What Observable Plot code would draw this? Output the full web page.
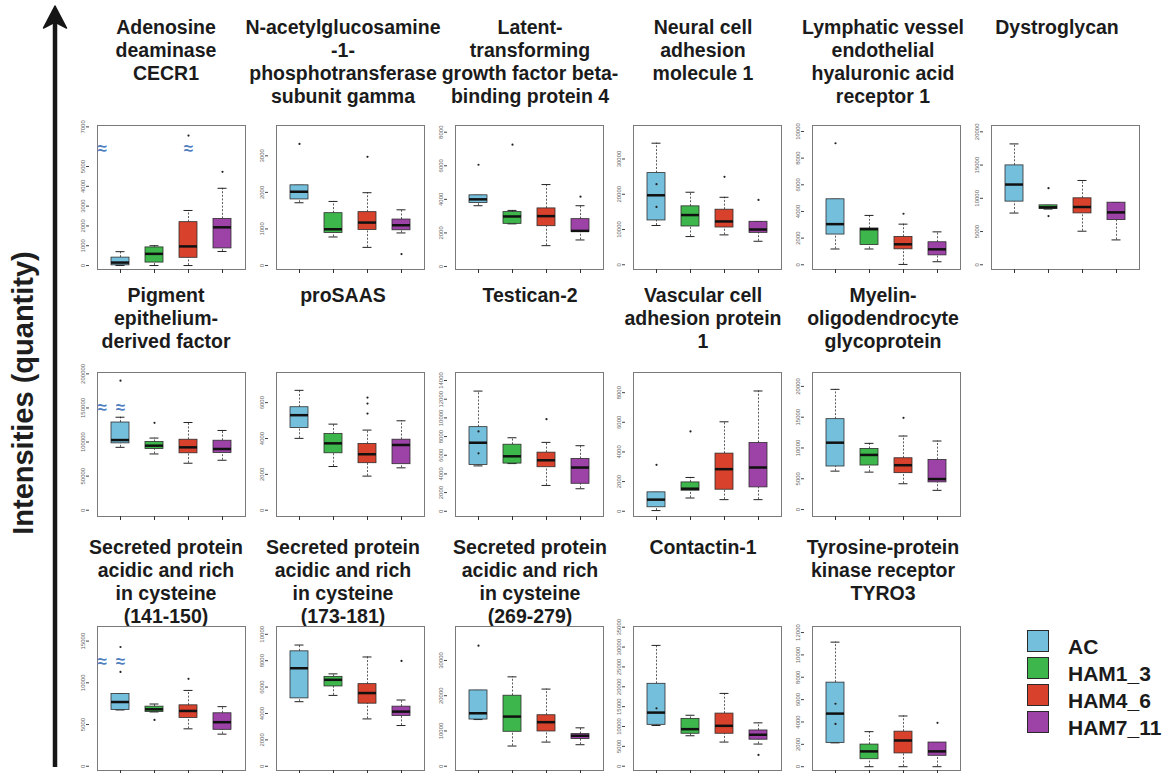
<!DOCTYPE html>
<html>
<head>
<meta charset="utf-8">
<script src="https://cdn.jsdelivr.net/npm/d3@7"></script>
<script src="https://cdn.jsdelivr.net/npm/@observablehq/plot@0.6"></script>
<style>
  body { margin: 0; background: #fff; font-family: "Liberation Sans", Arial, sans-serif; }
  #root { position: relative; width: 1172px; height: 773px; overflow: hidden; background: #fff; }
  .title { position: absolute; width: 230px; text-align: center; font-weight: bold; font-size: 19.5px; line-height: 23px; color: #1b1b1b; white-space: nowrap; }
  .panel { position: absolute; }
  .ylab { position: absolute; font-weight: bold; font-size: 29px; color: #1e1e1e; white-space: nowrap; transform-origin: center center; }
  .lgbox { position: absolute; width: 20px; height: 20px; border: 1.5px solid #2a2a2a; }
  .lgtxt { position: absolute; font-weight: bold; font-size: 21px; line-height: 24px; color: #1b1b1b; }
</style>
</head>
<body>
<div id="root"></div>
<script>
// ---------------- data ----------------
const groups = ["AC", "HAM1_3", "HAM4_6", "HAM7_11"];
const colors = ["#74bfdc", "#3db64b", "#d8412c", "#9d42a6"];

const titles = [
  ["Adenosine", "deaminase", "CECR1"],
  ["N-acetylglucosamine", "-1-", "phosphotransferase", "subunit gamma"],
  ["Latent-", "transforming", "growth factor beta-", "binding protein 4"],
  ["Neural cell", "adhesion", "molecule 1"],
  ["Lymphatic vessel", "endothelial", "hyaluronic acid", "receptor 1"],
  ["Dystroglycan"],
  ["Pigment", "epithelium-", "derived factor"],
  ["proSAAS"],
  ["Testican-2"],
  ["Vascular cell", "adhesion protein", "1"],
  ["Myelin-", "oligodendrocyte", "glycoprotein"],
  ["Secreted protein", "acidic and rich", "in cysteine", "(141-150)"],
  ["Secreted protein", "acidic and rich", "in cysteine", "(173-181)"],
  ["Secreted protein", "acidic and rich", "in cysteine", "(269-279)"],
  ["Contactin-1"],
  ["Tyrosine-protein", "kinase receptor", "TYRO3"]
];

// box statistics per protein, in group order AC, HAM1_3, HAM4_6, HAM7_11
const mins = [
  [0, 0, 0, 710], [1716, 780, 495, 890], [3620, 2540, 1240, 1580], [11140, 8000, 8480, 6670],
  [1184, 1184, 25, 227], [7780, 8380, 5050, 3740], [92230, 82520, 68930, 73300], [4007, 2438, 1902, 2364],
  [4858, 5106, 2766, 2411], [45, 894, 782, 782], [6240, 6080, 4190, 3120], [6746, 6508, 4484, 3849],
  [4893, 5370, 3588, 3087], [13240, 5730, 6850, 6100], [10250, 7670, 6080, 5580], [2131, 0, 0, 0]
];
const q1s = [
  [10, 150, 390, 865], [1807, 890, 972, 963], [3780, 2540, 2400, 2060], [12570, 10860, 10570, 9050],
  [2267, 1486, 1159, 705], [9500, 8380, 7730, 6720], [98060, 89800, 83500, 83980], [4580, 3176, 2622, 2567],
  [4965, 5106, 4716, 2943], [268, 1385, 1452, 1609], [6990, 7150, 5910, 4410], [6746, 6508, 5794, 4365],
  [5144, 6048, 4743, 3814], [13240, 9770, 9860, 7700], [10420, 8170, 8170, 6670], [2131, 670, 1187, 974]
];
const medians = [
  [150, 590, 966, 1930], [2018, 991, 1174, 1101], [4000, 2980, 3000, 2120], [19710, 14100, 12290, 10000],
  [3048, 2670, 1536, 1159], [12070, 8640, 8690, 7880], [102910, 94660, 92230, 89800], [5300, 3730, 3121, 3638],
  [7340, 5887, 5461, 4681], [782, 1520, 2838, 2950], [10860, 8870, 7200, 4950], [7698, 6825, 6627, 5278],
  [7428, 6550, 5546, 4141], [15020, 14080, 12490, 8640], [13500, 9330, 10170, 7920], [4749, 1370, 2344, 1370]
];
const q3s = [
  [400, 915, 2190, 2355], [2193, 1431, 1459, 1257], [4240, 3240, 3460, 2820], [26000, 16570, 15620, 12190],
  [4912, 2720, 2091, 1688], [14950, 8940, 10000, 9340], [128640, 100000, 103400, 101940], [5743, 4247, 3693, 3933],
  [9007, 7128, 6277, 5603], [1274, 1944, 3888, 4603], [14680, 9840, 8330, 8060], [8651, 7143, 7302, 6349],
  [8708, 6775, 6223, 4517], [21500, 20000, 14460, 9110], [20750, 11920, 13250, 9000], [7519, 1979, 3135, 2161]
];
const maxs = [
  [700, 1000, 2780, 3900], [2193, 1752, 1991, 1523], [4240, 3340, 4880, 3620], [34480, 20570, 19140, 12190],
  [4912, 3703, 3048, 2469], [18180, 8940, 12680, 9340], [136410, 105830, 128640, 116990], [6685, 4801, 4469, 4986],
  [12870, 7872, 7376, 7021], [1274, 2279, 6034, 8112], [19520, 10750, 11940, 11130], [8651, 7460, 9087, 7143],
  [9185, 7001, 8281, 5019], [21500, 25350, 21880, 10890], [30420, 12830, 18330, 10920], [11142, 3135, 4536, 2161]
];

// individual points (outliers and visible samples): [protein index, group, value]
const points = [
  [0, "HAM4_6", 6560], [0, "HAM7_11", 4730],
  [1, "AC", 3326], [1, "HAM4_6", 2972], [1, "HAM7_11", 312],
  [2, "AC", 6060], [2, "HAM1_3", 7260], [2, "HAM7_11", 4160],
  [3, "HAM4_6", 24950], [3, "HAM7_11", 18380], [3, "AC", 22860], [3, "AC", 16400],
  [4, "AC", 9118], [4, "HAM4_6", 3829],
  [5, "HAM1_3", 11520], [5, "HAM1_3", 7320],
  [6, "AC", 190000], [6, "HAM1_3", 128160],
  [7, "HAM4_6", 6279], [7, "HAM4_6", 5946], [7, "HAM4_6", 5392],
  [8, "HAM4_6", 9858], [8, "AC", 8546], [8, "AC", 6206],
  [9, "AC", 3128], [9, "HAM1_3", 5385],
  [10, "HAM4_6", 14890],
  [11, "AC", 11310], [11, "AC", 14290], [11, "HAM1_3", 5556], [11, "HAM4_6", 10476],
  [12, "HAM7_11", 7980],
  [13, "AC", 34180],
  [14, "HAM7_11", 2830], [14, "AC", 14580],
  [15, "HAM7_11", 3927], [15, "AC", 5630], [15, "AC", 3830]
];

// axis break markers: [protein index, group (null = on the axis), value]
const breaks = [
  [0, null, 5900], [0, "HAM4_6", 5900],
  [6, null, 151000], [6, "AC", 151000],
  [11, null, 12500], [11, "AC", 12500]
];

const yDomains = [
  [-200, 7070], [-110, 3830], [-180, 8400], [-1340, 39500], [-355, 10450], [-710, 20950],
  [-9200, 202000], [-350, 7680], [-560, 14860], [-355, 9360], [-1130, 22260],
  [-510, 16750], [-320, 10590], [-1210, 39630], [-1080, 35180], [-340, 12540]
];
const yTicks = [
  [0, 1000, 2000, 3000, 4000, 5000, 7000],
  [0, 1000, 2000, 3000],
  [0, 2000, 4000, 6000, 8000],
  [0, 10000, 20000, 30000],
  [0, 2000, 4000, 6000, 8000, 10000],
  [0, 5000, 10000, 15000, 20000],
  [0, 50000, 100000, 150000, 200000],
  [0, 2000, 4000, 6000],
  [0, 2000, 4000, 6000, 8000, 10000, 12000, 14000],
  [0, 2000, 4000, 6000, 8000],
  [0, 5000, 10000, 15000, 20000],
  [0, 5000, 10000, 15000],
  [0, 2000, 4000, 6000, 8000, 10000],
  [0, 10000, 20000, 30000],
  [0, 5000, 10000, 15000, 20000, 25000, 30000, 35000],
  [0, 2000, 4000, 6000, 8000, 10000, 12000]
];
const yLabel = "Intensities (quantity)";

// ---------------- layout ----------------
const colFrameLeft = [97, 276, 455, 633, 812, 991];
const colTitleCenter = [166, 343, 530, 703, 883, 1057];
const rowFrameTop = [125, 372, 626];
const rowTitleTop = [16, 284, 536];
const panelRow = [0, 0, 0, 0, 0, 0, 1, 1, 1, 1, 1, 2, 2, 2, 2, 2];
const panelCol = [0, 1, 2, 3, 4, 5, 0, 1, 2, 3, 4, 0, 1, 2, 3, 4];

const ML = 30, INSET = 8, MT = 5, FH = 144, MB = 12, FW = 148;

const root = document.getElementById("root");

function makePanel(i) {
  const rows = groups.map((g, j) => ({
    group: g, min: mins[i][j], q1: q1s[i][j], med: medians[i][j], q3: q3s[i][j], max: maxs[i][j]
  }));
  const pts = points.filter(p => p[0] === i).map(p => ({group: p[1], value: p[2]}));
  const brAxis = breaks.filter(b => b[0] === i && b[1] === null).map(b => ({value: b[2]}));
  const brGroup = breaks.filter(b => b[0] === i && b[1] !== null).map(b => ({group: b[1], value: b[2]}));
  const whisk = {x: "group", stroke: "#333", strokeWidth: 0.8, strokeDasharray: "2,1.6"};
  const cap = {x: "group", insetLeft: 4.5, insetRight: 4.5, stroke: "#222", strokeWidth: 1};
  const brStyle = {text: () => "\u2248", fill: "#4f7fbf", fontSize: 17, fontWeight: "bold"};
  return Plot.plot({
    width: ML + INSET + FW + 2,
    height: MT + FH + MB,
    marginLeft: ML, marginRight: 2, marginTop: MT, marginBottom: MB,
    style: {background: "transparent", overflow: "visible", fontFamily: "Liberation Sans, Arial, sans-serif"},
    x: {type: "band", domain: groups, paddingInner: 0.48, paddingOuter: 0.385, insetLeft: INSET, axis: null},
    y: {domain: yDomains[i], axis: null},
    color: {domain: groups, range: colors},
    marks: [
      Plot.frame({insetLeft: INSET, stroke: "#7a7a7a", strokeWidth: 1}),
      Plot.axisX({tickSize: 4, tickFormat: () => "", stroke: "#333", label: null}),
      Plot.axisY({ticks: yTicks[i], tickFormat: d => String(d), tickRotate: -90, tickSize: 3, tickPadding: 2,
                  fontSize: 6, fill: "#666", stroke: "#444", label: null}),
      Plot.ruleX(rows, {...whisk, y1: "q3", y2: "max"}),
      Plot.ruleX(rows, {...whisk, y1: "min", y2: "q1"}),
      Plot.tickY(rows, {...cap, y: "max"}),
      Plot.tickY(rows, {...cap, y: "min"}),
      Plot.barY(rows, {x: "group", y1: "q1", y2: "q3", fill: "group", stroke: "#2d2d2d", strokeWidth: 0.8}),
      Plot.tickY(rows, {x: "group", y: "med", stroke: "#111", strokeWidth: 2.5}),
      Plot.dot(pts, {x: "group", y: "value", r: 1.1, fill: "#222", stroke: null}),
      Plot.text(brAxis, {...brStyle, y: "value", frameAnchor: "left", dx: INSET}),
      Plot.text(brGroup, {...brStyle, x: "group", y: "value"})
    ]
  });
}

titles.forEach((lines, i) => {
  const r = panelRow[i], c = panelCol[i];
  const t = document.createElement("div");
  t.className = "title";
  t.style.left = (colTitleCenter[c] - 115) + "px";
  t.style.top = rowTitleTop[r] + "px";
  t.innerHTML = lines.join("<br>");
  root.appendChild(t);

  const p = document.createElement("div");
  p.className = "panel";
  p.style.left = (colFrameLeft[c] - ML - INSET) + "px";
  p.style.top = (rowFrameTop[r] - MT) + "px";
  p.appendChild(makePanel(i));
  root.appendChild(p);
});

// big y-axis arrow and label
const svgNS = "http://www.w3.org/2000/svg";
const arrow = document.createElementNS(svgNS, "svg");
arrow.setAttribute("width", "80");
arrow.setAttribute("height", "773");
arrow.style.position = "absolute";
arrow.style.left = "15px";
arrow.style.top = "0px";
const shaft = document.createElementNS(svgNS, "line");
shaft.setAttribute("x1", "40"); shaft.setAttribute("x2", "40");
shaft.setAttribute("y1", "22"); shaft.setAttribute("y2", "767");
shaft.setAttribute("stroke", "#161616"); shaft.setAttribute("stroke-width", "4.5");
arrow.appendChild(shaft);
const head = document.createElementNS(svgNS, "path");
head.setAttribute("d", "M40,6 L51.5,28 L40,22 L28.5,28 Z");
head.setAttribute("fill", "#161616");
head.setAttribute("stroke", "#161616");
head.setAttribute("stroke-width", "1.5");
head.setAttribute("stroke-linejoin", "round");
arrow.appendChild(head);
root.appendChild(arrow);

const yl = document.createElement("div");
yl.className = "ylab";
yl.textContent = yLabel;
yl.style.width = "300px";
yl.style.textAlign = "center";
yl.style.lineHeight = "34px";
yl.style.left = (23 - 150) + "px";
yl.style.top = (393 - 17) + "px";
yl.style.transform = "rotate(-90deg)";
root.appendChild(yl);

// legend
const lgTop = [630, 657, 684, 711];
groups.forEach((g, j) => {
  const b = document.createElement("div");
  b.className = "lgbox";
  b.style.left = "1027px";
  b.style.top = lgTop[j] + "px";
  b.style.background = colors[j];
  root.appendChild(b);
  const t = document.createElement("div");
  t.className = "lgtxt";
  t.style.left = "1068px";
  t.style.top = (lgTop[j] + 5) + "px";
  t.textContent = g;
  root.appendChild(t);
});
</script>
</body>
</html>
